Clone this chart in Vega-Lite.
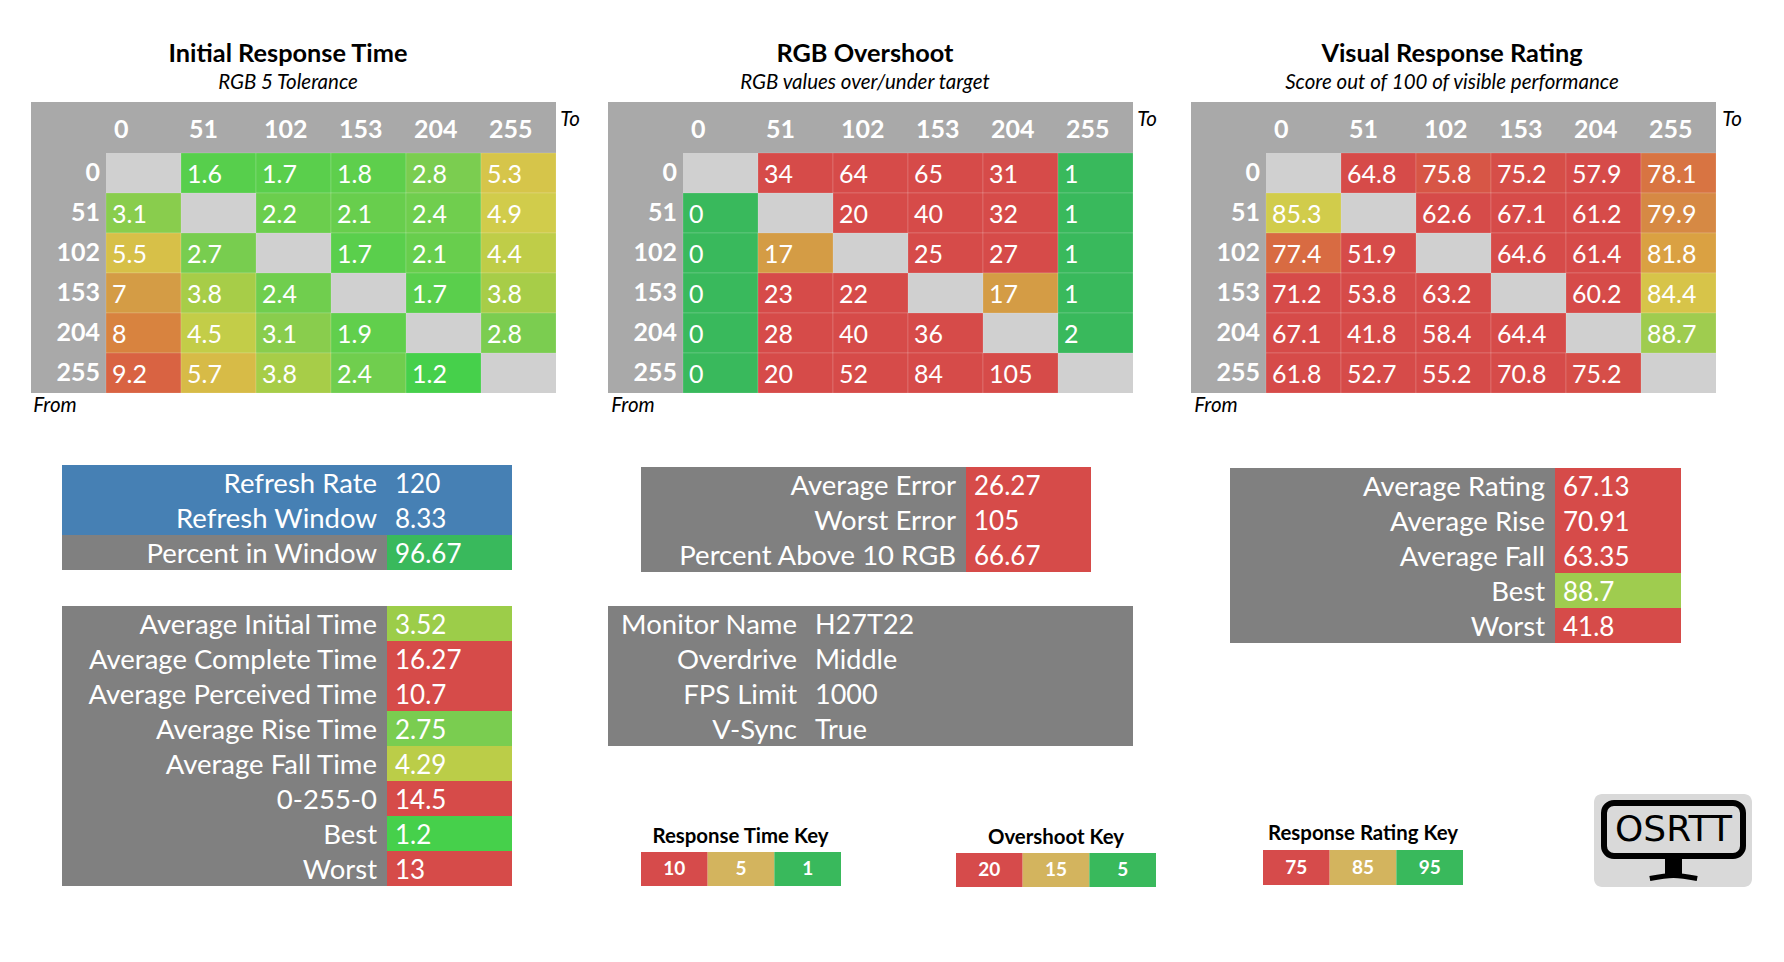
{"$schema":"https://vega.github.io/schema/vega-lite/v6.json","width":1784,"height":962,"padding":0,"autosize":"none","background":"#ffffff","config":{"view":{"stroke":null},"font":"Lato","text":{"font":"Lato"}},
"datasets":{
"steps":[{"step":"0"},{"step":"51"},{"step":"102"},{"step":"153"},{"step":"204"},{"step":"255"}],
"time":[{"from":"0","to":"0","value":null},{"from":"0","to":"51","value":1.6},{"from":"0","to":"102","value":1.7},{"from":"0","to":"153","value":1.8},{"from":"0","to":"204","value":2.8},{"from":"0","to":"255","value":5.3},{"from":"51","to":"0","value":3.1},{"from":"51","to":"51","value":null},{"from":"51","to":"102","value":2.2},{"from":"51","to":"153","value":2.1},{"from":"51","to":"204","value":2.4},{"from":"51","to":"255","value":4.9},{"from":"102","to":"0","value":5.5},{"from":"102","to":"51","value":2.7},{"from":"102","to":"102","value":null},{"from":"102","to":"153","value":1.7},{"from":"102","to":"204","value":2.1},{"from":"102","to":"255","value":4.4},{"from":"153","to":"0","value":7},{"from":"153","to":"51","value":3.8},{"from":"153","to":"102","value":2.4},{"from":"153","to":"153","value":null},{"from":"153","to":"204","value":1.7},{"from":"153","to":"255","value":3.8},{"from":"204","to":"0","value":8},{"from":"204","to":"51","value":4.5},{"from":"204","to":"102","value":3.1},{"from":"204","to":"153","value":1.9},{"from":"204","to":"204","value":null},{"from":"204","to":"255","value":2.8},{"from":"255","to":"0","value":9.2},{"from":"255","to":"51","value":5.7},{"from":"255","to":"102","value":3.8},{"from":"255","to":"153","value":2.4},{"from":"255","to":"204","value":1.2},{"from":"255","to":"255","value":null}],
"over":[{"from":"0","to":"0","value":null},{"from":"0","to":"51","value":34},{"from":"0","to":"102","value":64},{"from":"0","to":"153","value":65},{"from":"0","to":"204","value":31},{"from":"0","to":"255","value":1},{"from":"51","to":"0","value":0},{"from":"51","to":"51","value":null},{"from":"51","to":"102","value":20},{"from":"51","to":"153","value":40},{"from":"51","to":"204","value":32},{"from":"51","to":"255","value":1},{"from":"102","to":"0","value":0},{"from":"102","to":"51","value":17},{"from":"102","to":"102","value":null},{"from":"102","to":"153","value":25},{"from":"102","to":"204","value":27},{"from":"102","to":"255","value":1},{"from":"153","to":"0","value":0},{"from":"153","to":"51","value":23},{"from":"153","to":"102","value":22},{"from":"153","to":"153","value":null},{"from":"153","to":"204","value":17},{"from":"153","to":"255","value":1},{"from":"204","to":"0","value":0},{"from":"204","to":"51","value":28},{"from":"204","to":"102","value":40},{"from":"204","to":"153","value":36},{"from":"204","to":"204","value":null},{"from":"204","to":"255","value":2},{"from":"255","to":"0","value":0},{"from":"255","to":"51","value":20},{"from":"255","to":"102","value":52},{"from":"255","to":"153","value":84},{"from":"255","to":"204","value":105},{"from":"255","to":"255","value":null}],
"rate":[{"from":"0","to":"0","value":null},{"from":"0","to":"51","value":64.8},{"from":"0","to":"102","value":75.8},{"from":"0","to":"153","value":75.2},{"from":"0","to":"204","value":57.9},{"from":"0","to":"255","value":78.1},{"from":"51","to":"0","value":85.3},{"from":"51","to":"51","value":null},{"from":"51","to":"102","value":62.6},{"from":"51","to":"153","value":67.1},{"from":"51","to":"204","value":61.2},{"from":"51","to":"255","value":79.9},{"from":"102","to":"0","value":77.4},{"from":"102","to":"51","value":51.9},{"from":"102","to":"102","value":null},{"from":"102","to":"153","value":64.6},{"from":"102","to":"204","value":61.4},{"from":"102","to":"255","value":81.8},{"from":"153","to":"0","value":71.2},{"from":"153","to":"51","value":53.8},{"from":"153","to":"102","value":63.2},{"from":"153","to":"153","value":null},{"from":"153","to":"204","value":60.2},{"from":"153","to":"255","value":84.4},{"from":"204","to":"0","value":67.1},{"from":"204","to":"51","value":41.8},{"from":"204","to":"102","value":58.4},{"from":"204","to":"153","value":64.4},{"from":"204","to":"204","value":null},{"from":"204","to":"255","value":88.7},{"from":"255","to":"0","value":61.8},{"from":"255","to":"51","value":52.7},{"from":"255","to":"102","value":55.2},{"from":"255","to":"153","value":70.8},{"from":"255","to":"204","value":75.2},{"from":"255","to":"255","value":null}],
"refresh":[{"label":"Refresh Rate","value":120,"status":"info"},{"label":"Refresh Window","value":8.33,"status":"info"},{"label":"Percent in Window","value":96.67,"status":"pass"}],
"times":[{"label":"Average Initial Time","value":3.52},{"label":"Average Complete Time","value":16.27},{"label":"Average Perceived Time","value":10.7},{"label":"Average Rise Time","value":2.75},{"label":"Average Fall Time","value":4.29},{"label":"0-255-0","value":14.5},{"label":"Best","value":1.2},{"label":"Worst","value":13}],
"errors":[{"label":"Average Error","value":26.27},{"label":"Worst Error","value":105},{"label":"Percent Above 10 RGB","value":66.67}],
"monitor":[{"label":"Monitor Name","value":"H27T22"},{"label":"Overdrive","value":"Middle"},{"label":"FPS Limit","value":"1000"},{"label":"V-Sync","value":"True"}],
"ratings":[{"label":"Average Rating","value":67.13},{"label":"Average Rise","value":70.91},{"label":"Average Fall","value":63.35},{"label":"Best","value":88.7},{"label":"Worst","value":41.8}],
"keyTime":[{"level":"bad","value":"10"},{"level":"mid","value":"5"},{"level":"good","value":"1"}],
"keyOver":[{"level":"bad","value":"20"},{"level":"mid","value":"15"},{"level":"good","value":"5"}],
"keyRate":[{"level":"bad","value":"75"},{"level":"mid","value":"85"},{"level":"good","value":"95"}]
},
"layer":[
{"data":{"values":[{"t":"Initial Response Time"}]},"mark":{"type":"text","fontWeight":"bold","fontSize":25.3,"color":"#000000"},"encoding":{"text":{"field":"t"},"x":{"field":"t","axis":null,"scale":{"type":"band","range":[31,545]}},"y":{"field":"t","axis":null,"scale":{"type":"band","range":[40,68]}}}},
{"data":{"values":[{"t":"RGB 5 Tolerance"}]},"mark":{"type":"text","fontStyle":"italic","fontSize":20.5,"color":"#000000"},"encoding":{"text":{"field":"t"},"x":{"field":"t","axis":null,"scale":{"type":"band","range":[31,545]}},"y":{"field":"t","axis":null,"scale":{"type":"band","range":[69,97]}}}},
{"data":{"values":[{"t":"To"}]},"mark":{"type":"text","fontStyle":"italic","fontSize":20.5,"color":"#000000"},"encoding":{"text":{"field":"t"},"x":{"field":"t","axis":null,"scale":{"type":"band","range":[557,583]}},"y":{"field":"t","axis":null,"scale":{"type":"band","range":[110,130]}}}},
{"data":{"values":[{"t":"From"}]},"mark":{"type":"text","fontStyle":"italic","fontSize":20.5,"color":"#000000"},"encoding":{"text":{"field":"t"},"x":{"field":"t","axis":null,"scale":{"type":"band","range":[32,78]}},"y":{"field":"t","axis":null,"scale":{"type":"band","range":[396,416]}}}},
{"data":{"values":[{"t":"panel"}]},"mark":{"type":"rect","color":"#a9a9a9"},"encoding":{"x":{"field":"t","axis":null,"scale":{"type":"band","range":[31,556]}},"y":{"field":"t","axis":null,"scale":{"type":"band","range":[102,393]}}}},
{"data":{"name":"steps"},"mark":{"type":"text","align":"left","dx":8,"dy":2,"fontWeight":"bold","fontSize":25,"color":"#ffffff"},"encoding":{"text":{"field":"step"},"x":{"field":"step","bandPosition":0,"axis":null,"sort":null,"scale":{"type":"band","domain":["axis","0","51","102","153","204","255"],"range":[31,556]}},"y":{"datum":"head","type":"nominal","axis":null,"scale":{"type":"band","domain":["head"],"range":[102,153]}}}},
{"layer":[
{"data":{"name":"time"},"transform":[{"filter":"datum.value === null"}],"mark":{"type":"rect","color":"#d0d0d0"},"encoding":{"x":{"field":"to","axis":null,"scale":{"type":"band","domain":["axis","0","51","102","153","204","255"],"range":[31,556]}},"y":{"field":"from","axis":null,"scale":{"type":"band","domain":["0","51","102","153","204","255"],"range":[153,393]}}}},
{"data":{"name":"time"},"transform":[{"filter":"datum.value !== null"}],"mark":{"type":"rect","stroke":"#ffffff","strokeOpacity":0.15},"encoding":{"x":{"field":"to"},"y":{"field":"from"},"color":{"field":"value","type":"quantitative","legend":null,"scale":{"domain":[1,2.8,5,7,10],"range":["#3BD04B","#7BCD50","#D5CC4C","#D49C45","#D64B49"],"clamp":true}}}},
{"data":{"name":"time"},"transform":[{"filter":"datum.value !== null"}],"mark":{"type":"text","align":"left","dx":6,"dy":2,"fontSize":25,"color":"#ffffff"},"encoding":{"text":{"field":"value","type":"nominal"},"x":{"field":"to","bandPosition":0},"y":{"field":"from"}}},
{"data":{"name":"steps"},"mark":{"type":"text","align":"right","dx":-6,"fontWeight":"bold","fontSize":25,"color":"#ffffff"},"encoding":{"text":{"field":"step"},"x":{"datum":"axis","type":"nominal","bandPosition":1},"y":{"field":"step"}}}
]},
{"data":{"values":[{"t":"RGB Overshoot"}]},"mark":{"type":"text","fontWeight":"bold","fontSize":25.3,"color":"#000000"},"encoding":{"text":{"field":"t"},"x":{"field":"t","axis":null,"scale":{"type":"band","range":[608,1122]}},"y":{"field":"t","axis":null,"scale":{"type":"band","range":[40,68]}}}},
{"data":{"values":[{"t":"RGB values over/under target"}]},"mark":{"type":"text","fontStyle":"italic","fontSize":20.5,"color":"#000000"},"encoding":{"text":{"field":"t"},"x":{"field":"t","axis":null,"scale":{"type":"band","range":[608,1122]}},"y":{"field":"t","axis":null,"scale":{"type":"band","range":[69,97]}}}},
{"data":{"values":[{"t":"To"}]},"mark":{"type":"text","fontStyle":"italic","fontSize":20.5,"color":"#000000"},"encoding":{"text":{"field":"t"},"x":{"field":"t","axis":null,"scale":{"type":"band","range":[1134,1160]}},"y":{"field":"t","axis":null,"scale":{"type":"band","range":[110,130]}}}},
{"data":{"values":[{"t":"From"}]},"mark":{"type":"text","fontStyle":"italic","fontSize":20.5,"color":"#000000"},"encoding":{"text":{"field":"t"},"x":{"field":"t","axis":null,"scale":{"type":"band","range":[610,656]}},"y":{"field":"t","axis":null,"scale":{"type":"band","range":[396,416]}}}},
{"data":{"values":[{"t":"panel"}]},"mark":{"type":"rect","color":"#a9a9a9"},"encoding":{"x":{"field":"t","axis":null,"scale":{"type":"band","range":[608,1133]}},"y":{"field":"t","axis":null,"scale":{"type":"band","range":[102,393]}}}},
{"data":{"name":"steps"},"mark":{"type":"text","align":"left","dx":8,"dy":2,"fontWeight":"bold","fontSize":25,"color":"#ffffff"},"encoding":{"text":{"field":"step"},"x":{"field":"step","bandPosition":0,"axis":null,"sort":null,"scale":{"type":"band","domain":["axis","0","51","102","153","204","255"],"range":[608,1133]}},"y":{"datum":"head","type":"nominal","axis":null,"scale":{"type":"band","domain":["head"],"range":[102,153]}}}},
{"layer":[
{"data":{"name":"over"},"transform":[{"filter":"datum.value === null"}],"mark":{"type":"rect","color":"#d0d0d0"},"encoding":{"x":{"field":"to","axis":null,"scale":{"type":"band","domain":["axis","0","51","102","153","204","255"],"range":[608,1133]}},"y":{"field":"from","axis":null,"scale":{"type":"band","domain":["0","51","102","153","204","255"],"range":[153,393]}}}},
{"data":{"name":"over"},"transform":[{"filter":"datum.value !== null"}],"mark":{"type":"rect","stroke":"#ffffff","strokeOpacity":0.15},"encoding":{"x":{"field":"to"},"y":{"field":"from"},"color":{"field":"value","type":"quantitative","legend":null,"scale":{"domain":[5,15,17,20],"range":["#39B95C","#D5B64A","#D49C45","#D64B49"],"clamp":true}}}},
{"data":{"name":"over"},"transform":[{"filter":"datum.value !== null"}],"mark":{"type":"text","align":"left","dx":6,"dy":2,"fontSize":25,"color":"#ffffff"},"encoding":{"text":{"field":"value","type":"nominal"},"x":{"field":"to","bandPosition":0},"y":{"field":"from"}}},
{"data":{"name":"steps"},"mark":{"type":"text","align":"right","dx":-6,"fontWeight":"bold","fontSize":25,"color":"#ffffff"},"encoding":{"text":{"field":"step"},"x":{"datum":"axis","type":"nominal","bandPosition":1},"y":{"field":"step"}}}
]},
{"data":{"values":[{"t":"Visual Response Rating"}]},"mark":{"type":"text","fontWeight":"bold","fontSize":25.3,"color":"#000000"},"encoding":{"text":{"field":"t"},"x":{"field":"t","axis":null,"scale":{"type":"band","range":[1195,1709]}},"y":{"field":"t","axis":null,"scale":{"type":"band","range":[40,68]}}}},
{"data":{"values":[{"t":"Score out of 100 of visible performance"}]},"mark":{"type":"text","fontStyle":"italic","fontSize":20.5,"color":"#000000"},"encoding":{"text":{"field":"t"},"x":{"field":"t","axis":null,"scale":{"type":"band","range":[1195,1709]}},"y":{"field":"t","axis":null,"scale":{"type":"band","range":[69,97]}}}},
{"data":{"values":[{"t":"To"}]},"mark":{"type":"text","fontStyle":"italic","fontSize":20.5,"color":"#000000"},"encoding":{"text":{"field":"t"},"x":{"field":"t","axis":null,"scale":{"type":"band","range":[1719,1745]}},"y":{"field":"t","axis":null,"scale":{"type":"band","range":[110,130]}}}},
{"data":{"values":[{"t":"From"}]},"mark":{"type":"text","fontStyle":"italic","fontSize":20.5,"color":"#000000"},"encoding":{"text":{"field":"t"},"x":{"field":"t","axis":null,"scale":{"type":"band","range":[1193,1239]}},"y":{"field":"t","axis":null,"scale":{"type":"band","range":[396,416]}}}},
{"data":{"values":[{"t":"panel"}]},"mark":{"type":"rect","color":"#a9a9a9"},"encoding":{"x":{"field":"t","axis":null,"scale":{"type":"band","range":[1191,1716]}},"y":{"field":"t","axis":null,"scale":{"type":"band","range":[102,393]}}}},
{"data":{"name":"steps"},"mark":{"type":"text","align":"left","dx":8,"dy":2,"fontWeight":"bold","fontSize":25,"color":"#ffffff"},"encoding":{"text":{"field":"step"},"x":{"field":"step","bandPosition":0,"axis":null,"sort":null,"scale":{"type":"band","domain":["axis","0","51","102","153","204","255"],"range":[1191,1716]}},"y":{"datum":"head","type":"nominal","axis":null,"scale":{"type":"band","domain":["head"],"range":[102,153]}}}},
{"layer":[
{"data":{"name":"rate"},"transform":[{"filter":"datum.value === null"}],"mark":{"type":"rect","color":"#d0d0d0"},"encoding":{"x":{"field":"to","axis":null,"scale":{"type":"band","domain":["axis","0","51","102","153","204","255"],"range":[1191,1716]}},"y":{"field":"from","axis":null,"scale":{"type":"band","domain":["0","51","102","153","204","255"],"range":[153,393]}}}},
{"data":{"name":"rate"},"transform":[{"filter":"datum.value !== null"}],"mark":{"type":"rect","stroke":"#ffffff","strokeOpacity":0.15},"encoding":{"x":{"field":"to"},"y":{"field":"from"},"color":{"field":"value","type":"quantitative","legend":null,"scale":{"domain":[75,80,85,89,95],"range":["#D64B49","#D68A44","#D5CC4C","#9ACC50","#39B95C"],"clamp":true}}}},
{"data":{"name":"rate"},"transform":[{"filter":"datum.value !== null"}],"mark":{"type":"text","align":"left","dx":6,"dy":2,"fontSize":25,"color":"#ffffff"},"encoding":{"text":{"field":"value","type":"nominal"},"x":{"field":"to","bandPosition":0},"y":{"field":"from"}}},
{"data":{"name":"steps"},"mark":{"type":"text","align":"right","dx":-6,"fontWeight":"bold","fontSize":25,"color":"#ffffff"},"encoding":{"text":{"field":"step"},"x":{"datum":"axis","type":"nominal","bandPosition":1},"y":{"field":"step"}}}
]},
{"layer":[
{"data":{"name":"refresh"},"mark":{"type":"rect"},"encoding":{"x":{"datum":"label","type":"nominal","axis":null,"scale":{"type":"band","domain":["label"],"range":[62,387]}},"y":{"field":"label","sort":null,"axis":null,"scale":{"type":"band","range":[465,570]}},"color":{"field":"status","legend":null,"scale":{"domain":["info","pass"],"range":["#4680B4","#808080"]}}}},
{"data":{"name":"refresh"},"mark":{"type":"text","align":"right","dx":-10,"dy":2,"fontSize":27.5,"color":"#ffffff"},"encoding":{"text":{"field":"label"},"x":{"datum":"label","type":"nominal","bandPosition":1},"y":{"field":"label","sort":null}}}
]},
{"layer":[
{"data":{"name":"refresh"},"mark":{"type":"rect"},"encoding":{"x":{"datum":"value","type":"nominal","axis":null,"scale":{"type":"band","domain":["value"],"range":[387,512]}},"y":{"field":"label","sort":null,"axis":null,"scale":{"type":"band","range":[465,570]}},"color":{"field":"status","legend":null,"scale":{"domain":["info","pass"],"range":["#4680B4","#39B95C"]}}}},
{"data":{"name":"refresh"},"mark":{"type":"text","align":"left","dx":8,"dy":2,"fontSize":26,"color":"#ffffff"},"encoding":{"text":{"field":"value","type":"nominal"},"x":{"datum":"value","type":"nominal","bandPosition":0},"y":{"field":"label","sort":null}}}
]},
{"layer":[
{"data":{"name":"times"},"mark":{"type":"rect","color":"#808080"},"encoding":{"x":{"datum":"label","type":"nominal","axis":null,"scale":{"type":"band","domain":["label"],"range":[62,387]}},"y":{"field":"label","sort":null,"axis":null,"scale":{"type":"band","range":[606,886]}}}},
{"data":{"name":"times"},"mark":{"type":"text","align":"right","dx":-10,"dy":2,"fontSize":27.5,"color":"#ffffff"},"encoding":{"text":{"field":"label"},"x":{"datum":"label","type":"nominal","bandPosition":1},"y":{"field":"label","sort":null}}}
]},
{"layer":[
{"data":{"name":"times"},"mark":{"type":"rect"},"encoding":{"x":{"datum":"value","type":"nominal","axis":null,"scale":{"type":"band","domain":["value"],"range":[387,512]}},"y":{"field":"label","sort":null,"axis":null,"scale":{"type":"band","range":[606,886]}},"color":{"field":"value","type":"quantitative","legend":null,"scale":{"domain":[1,2.8,5,7,10],"range":["#3BD04B","#7BCD50","#D5CC4C","#D49C45","#D64B49"],"clamp":true}}}},
{"data":{"name":"times"},"mark":{"type":"text","align":"left","dx":8,"dy":2,"fontSize":26,"color":"#ffffff"},"encoding":{"text":{"field":"value","type":"nominal"},"x":{"datum":"value","type":"nominal","bandPosition":0},"y":{"field":"label","sort":null}}}
]},
{"layer":[
{"data":{"name":"errors"},"mark":{"type":"rect","color":"#808080"},"encoding":{"x":{"datum":"label","type":"nominal","axis":null,"scale":{"type":"band","domain":["label"],"range":[641,966]}},"y":{"field":"label","sort":null,"axis":null,"scale":{"type":"band","range":[467,572]}}}},
{"data":{"name":"errors"},"mark":{"type":"text","align":"right","dx":-10,"dy":2,"fontSize":27.5,"color":"#ffffff"},"encoding":{"text":{"field":"label"},"x":{"datum":"label","type":"nominal","bandPosition":1},"y":{"field":"label","sort":null}}}
]},
{"layer":[
{"data":{"name":"errors"},"mark":{"type":"rect"},"encoding":{"x":{"datum":"value","type":"nominal","axis":null,"scale":{"type":"band","domain":["value"],"range":[966,1091]}},"y":{"field":"label","sort":null,"axis":null,"scale":{"type":"band","range":[467,572]}},"color":{"field":"value","type":"quantitative","legend":null,"scale":{"domain":[5,15,17,20],"range":["#39B95C","#D5B64A","#D49C45","#D64B49"],"clamp":true}}}},
{"data":{"name":"errors"},"mark":{"type":"text","align":"left","dx":8,"dy":2,"fontSize":26,"color":"#ffffff"},"encoding":{"text":{"field":"value","type":"nominal"},"x":{"datum":"value","type":"nominal","bandPosition":0},"y":{"field":"label","sort":null}}}
]},
{"layer":[
{"data":{"name":"monitor"},"mark":{"type":"rect","color":"#808080"},"encoding":{"x":{"datum":"label","type":"nominal","axis":null,"scale":{"type":"band","domain":["label"],"range":[608,807]}},"y":{"field":"label","sort":null,"axis":null,"scale":{"type":"band","range":[606,746]}}}},
{"data":{"name":"monitor"},"mark":{"type":"text","align":"right","dx":-10,"dy":2,"fontSize":27.5,"color":"#ffffff"},"encoding":{"text":{"field":"label"},"x":{"datum":"label","type":"nominal","bandPosition":1},"y":{"field":"label","sort":null}}}
]},
{"layer":[
{"data":{"name":"monitor"},"mark":{"type":"rect","color":"#808080"},"encoding":{"x":{"datum":"value","type":"nominal","axis":null,"scale":{"type":"band","domain":["value"],"range":[807,1133]}},"y":{"field":"label","sort":null,"axis":null,"scale":{"type":"band","range":[606,746]}}}},
{"data":{"name":"monitor"},"mark":{"type":"text","align":"left","dx":8,"dy":2,"fontSize":27,"color":"#ffffff"},"encoding":{"text":{"field":"value"},"x":{"datum":"value","type":"nominal","bandPosition":0},"y":{"field":"label","sort":null}}}
]},
{"layer":[
{"data":{"name":"ratings"},"mark":{"type":"rect","color":"#808080"},"encoding":{"x":{"datum":"label","type":"nominal","axis":null,"scale":{"type":"band","domain":["label"],"range":[1230,1555]}},"y":{"field":"label","sort":null,"axis":null,"scale":{"type":"band","range":[468,643]}}}},
{"data":{"name":"ratings"},"mark":{"type":"text","align":"right","dx":-10,"dy":2,"fontSize":27.5,"color":"#ffffff"},"encoding":{"text":{"field":"label"},"x":{"datum":"label","type":"nominal","bandPosition":1},"y":{"field":"label","sort":null}}}
]},
{"layer":[
{"data":{"name":"ratings"},"mark":{"type":"rect"},"encoding":{"x":{"datum":"value","type":"nominal","axis":null,"scale":{"type":"band","domain":["value"],"range":[1555,1681]}},"y":{"field":"label","sort":null,"axis":null,"scale":{"type":"band","range":[468,643]}},"color":{"field":"value","type":"quantitative","legend":null,"scale":{"domain":[75,80,85,89,95],"range":["#D64B49","#D68A44","#D5CC4C","#9ACC50","#39B95C"],"clamp":true}}}},
{"data":{"name":"ratings"},"mark":{"type":"text","align":"left","dx":8,"dy":2,"fontSize":26,"color":"#ffffff"},"encoding":{"text":{"field":"value","type":"nominal"},"x":{"datum":"value","type":"nominal","bandPosition":0},"y":{"field":"label","sort":null}}}
]},
{"data":{"values":[{"t":"Response Time Key"}]},"mark":{"type":"text","fontWeight":"bold","fontSize":20.4,"color":"#000000"},"encoding":{"text":{"field":"t"},"x":{"field":"t","axis":null,"scale":{"type":"band","range":[640,841]}},"y":{"field":"t","axis":null,"scale":{"type":"band","range":[825,849]}}}},
{"layer":[
{"data":{"name":"keyTime"},"mark":{"type":"rect"},"encoding":{"x":{"field":"value","sort":null,"axis":null,"scale":{"type":"band","range":[641,841]}},"y":{"datum":"key","type":"nominal","axis":null,"scale":{"type":"band","domain":["key"],"range":[852,886]}},"color":{"field":"level","legend":null,"scale":{"domain":["bad","mid","good"],"range":["#D64B4B","#D3B45E","#39B95C"]}}}},
{"data":{"name":"keyTime"},"mark":{"type":"text","fontWeight":"bold","fontSize":19,"color":"#ffffff"},"encoding":{"text":{"field":"value"},"x":{"field":"value","sort":null},"y":{"datum":"key","type":"nominal"}}}
]},
{"data":{"values":[{"t":"Overshoot Key"}]},"mark":{"type":"text","fontWeight":"bold","fontSize":20.4,"color":"#000000"},"encoding":{"text":{"field":"t"},"x":{"field":"t","axis":null,"scale":{"type":"band","range":[956,1156]}},"y":{"field":"t","axis":null,"scale":{"type":"band","range":[826,850]}}}},
{"layer":[
{"data":{"name":"keyOver"},"mark":{"type":"rect"},"encoding":{"x":{"field":"value","sort":null,"axis":null,"scale":{"type":"band","range":[956,1156]}},"y":{"datum":"key","type":"nominal","axis":null,"scale":{"type":"band","domain":["key"],"range":[853,887]}},"color":{"field":"level","legend":null,"scale":{"domain":["bad","mid","good"],"range":["#D64B4B","#D3B45E","#39B95C"]}}}},
{"data":{"name":"keyOver"},"mark":{"type":"text","fontWeight":"bold","fontSize":19,"color":"#ffffff"},"encoding":{"text":{"field":"value"},"x":{"field":"value","sort":null},"y":{"datum":"key","type":"nominal"}}}
]},
{"data":{"values":[{"t":"Response Rating Key"}]},"mark":{"type":"text","fontWeight":"bold","fontSize":20.4,"color":"#000000"},"encoding":{"text":{"field":"t"},"x":{"field":"t","axis":null,"scale":{"type":"band","range":[1263,1463]}},"y":{"field":"t","axis":null,"scale":{"type":"band","range":[822,846]}}}},
{"layer":[
{"data":{"name":"keyRate"},"mark":{"type":"rect"},"encoding":{"x":{"field":"value","sort":null,"axis":null,"scale":{"type":"band","range":[1263,1463]}},"y":{"datum":"key","type":"nominal","axis":null,"scale":{"type":"band","domain":["key"],"range":[850,885]}},"color":{"field":"level","legend":null,"scale":{"domain":["bad","mid","good"],"range":["#D64B4B","#D3B45E","#39B95C"]}}}},
{"data":{"name":"keyRate"},"mark":{"type":"text","fontWeight":"bold","fontSize":19,"color":"#ffffff"},"encoding":{"text":{"field":"value"},"x":{"field":"value","sort":null},"y":{"datum":"key","type":"nominal"}}}
]},
{"data":{"values":[{"t":"logo"}]},"mark":{"type":"rect","color":"#d9d9d9","cornerRadius":8},"encoding":{"x":{"field":"t","axis":null,"scale":{"type":"band","range":[1594,1752]}},"y":{"field":"t","axis":null,"scale":{"type":"band","range":[794,887]}}}},
{"data":{"values":[{"t":"screen"}]},"mark":{"type":"rect","fill":"transparent","stroke":"#000000","strokeWidth":6,"cornerRadius":10},"encoding":{"x":{"field":"t","axis":null,"scale":{"type":"band","range":[1604,1743]}},"y":{"field":"t","axis":null,"scale":{"type":"band","range":[803,856]}}}},
{"data":{"values":[{"t":"OSRTT"}]},"mark":{"type":"text","font":"DejaVu Sans","fontSize":36,"color":"#000000"},"encoding":{"text":{"field":"t"},"x":{"field":"t","axis":null,"scale":{"type":"band","range":[1604,1743]}},"y":{"field":"t","axis":null,"scale":{"type":"band","range":[803,856]}}}},
{"data":{"values":[{"t":"neck"}]},"mark":{"type":"rect","color":"#000000"},"encoding":{"x":{"field":"t","axis":null,"scale":{"type":"band","range":[1665,1682]}},"y":{"field":"t","axis":null,"scale":{"type":"band","range":[857,875]}}}},
{"data":{"values":[{"across":"left","level":"low"},{"across":"mid","level":"high"},{"across":"right","level":"low"}]},"mark":{"type":"line","color":"#000000","strokeWidth":5,"interpolate":"monotone"},"encoding":{"x":{"field":"across","sort":null,"axis":null,"scale":{"type":"point","range":[1638,1709]}},"y":{"field":"level","axis":null,"sort":["high","low"],"scale":{"type":"point","range":[874,880]}}}}
],
"resolve":{"scale":{"x":"independent","y":"independent","color":"independent"}}}
